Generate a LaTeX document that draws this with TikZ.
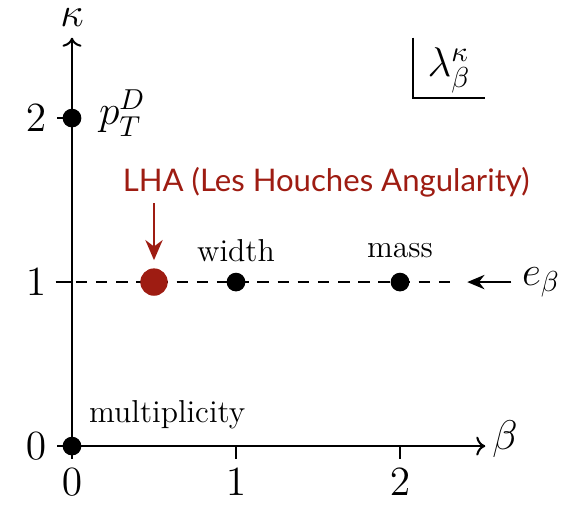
\documentclass[tikz,border=0pt]{standalone}
\usepackage{amsmath,amssymb}
\usepackage{fontspec}
\newfontfamily\lhafont{Lato}
\usepackage{tikz}
\usetikzlibrary{positioning,arrows.meta}
\definecolor{lhared}{RGB}{158,28,18}

\begin{document}
\begin{tikzpicture}[x=2cm,y=2cm,line width=0.7pt,
  dot/.style={circle,fill=black,inner sep=0pt,minimum size=6.5pt},
  bigdot/.style={circle,fill=lhared,inner sep=0pt,minimum size=9.5pt},
  biglab/.style={font=\Large},
  wordlab/.style={font=\fontsize{11}{13}\selectfont},
  lhalab/.style={font=\lhafont\fontsize{10.8}{13}\selectfont,text=lhared}]
  \useasboundingbox (-0.439,-0.354) rectangle (3.006,2.72);
  % axes
  \coordinate (O) at (0,0);
  \coordinate (xend) at (2.52,0);
  \coordinate (yend) at (0,2.49);
  \draw[->] (O) -- (xend);
  \draw[->] (O) -- (yend);
  \node[biglab] (betalab) at (2.64,0.04) {$\beta$};
  \node[biglab] (kappalab) at (0,2.61) {$\kappa$};
  % ticks
  \foreach \t in {0,1,2} {
    \draw (\t,0) -- (\t,-0.08);
    \draw (0,\t) -- (-0.09,\t);
    \node[biglab] (xt\t) at (\t,-0.22) {$\t$};
    \node[biglab] (yt\t) at (-0.22,\t) {$\t$};
  }
  % e_beta line
  \coordinate (dl) at (-0.1,1);
  \coordinate (dr) at (2.33,1);
  \draw[dashed,line width=0.4pt,dash pattern=on 4pt off 3pt] (dl) -- (dr);
  \node[biglab] (ebeta) at (2.86,1) {$e_\beta$};
  \coordinate (etip) at (2.41,1);
  \draw[-{Stealth[length=6pt,width=5pt]}] (ebeta.west) -- (etip);
  % points
  \node[dot] (ptd) at (0,2) {};
  \node[dot] (mult) at (0,0) {};
  \node[bigdot] (lha) at (0.5,1) {};
  \node[dot] (width) at (1,1) {};
  \node[dot] (mass) at (2,1) {};
  \node[biglab,anchor=west] (ptdlab) at (0.1,2.03) {$p_T^D$};
  \node[wordlab,anchor=south west] (multlab) at (0.04,0.04) {multiplicity};
  \node[wordlab] (widthlab) at (1,1.19) {width};
  \node[wordlab] (masslab) at (2,1.19) {mass};
  % LHA
  \node[lhalab] (lhatext) at (1.55,1.61) {LHA (Les Houches Angularity)};
  \coordinate (lhatop) at (0.5,1.48);
  \draw[lhared,-{Stealth[length=7pt,width=6pt]}] (lhatop) -- (lha.north) [shorten >=2.5pt];
  % lambda box
  \coordinate (boxtop) at (2.08,2.49);
  \coordinate (boxcorner) at (2.08,2.12);
  \coordinate (boxright) at (2.52,2.12);
  \draw (boxtop) -- (boxcorner) -- (boxright);
  \node[biglab] (lam) at (2.30,2.29) {$\lambda_\beta^\kappa$};
\end{tikzpicture}
\end{document}
